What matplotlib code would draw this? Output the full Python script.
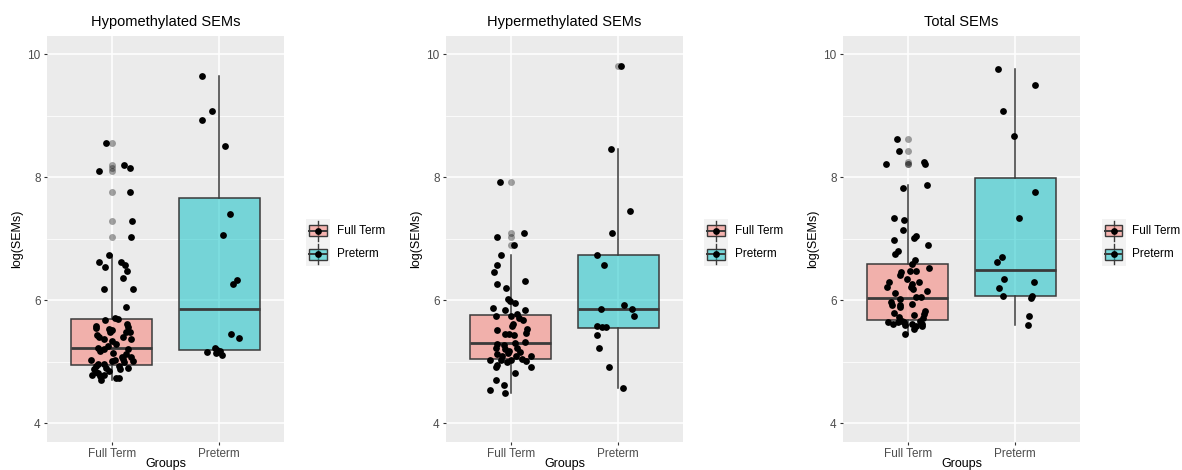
import numpy as np
import matplotlib.pyplot as plt
from matplotlib.colors import to_rgba
from matplotlib.patches import Rectangle

plt.rcParams['font.family'] = ['Liberation Sans', 'DejaVu Sans']

groups = ['Full Term', 'Preterm']
titles = ['Hypomethylated SEMs', 'Hypermethylated SEMs', 'Total SEMs']
fill_colors = ['#F8766D', '#00BFC4']
y_ticks = [4, 6, 8, 10]

# Hypomethylated: log(SEMs) values and horizontal jitter of each point
hypo_ft_y = [8.56, 8.10, 8.20, 8.15, 7.76, 7.29, 7.03, 6.74, 6.62, 6.54, 6.62, 6.58, 6.47, 6.36,
             6.19, 6.19, 5.89, 5.68, 5.71, 5.70, 5.59, 5.55, 5.53, 5.52, 5.49, 5.61, 5.56, 5.49,
             5.43, 5.41, 5.37, 5.34, 5.48, 5.37, 5.41, 5.23, 5.25, 5.20, 5.14, 5.13, 5.04, 5.08,
             5.02, 5.03, 4.97, 4.96, 5.01, 5.03, 4.99, 4.90, 4.88, 4.88, 4.79, 4.84, 4.77, 4.71,
             4.90, 4.73, 4.74, 4.81, 4.79, 4.85, 4.93, 4.93, 5.07, 5.21, 5.29, 5.18]
hypo_ft_dx = [-0.056, -0.118, 0.115, 0.171, 0.168, 0.193, 0.177, -0.028, -0.115, -0.059, 0.090,
              0.124, 0.143, 0.109, -0.071, 0.196, 0.137, -0.059, 0.031, 0.056, -0.143, -0.149,
              -0.022, 0.006, -0.019, 0.140, 0.149, 0.134, -0.137, -0.121, -0.075, 0.000, 0.174,
              0.177, 0.106, -0.130, -0.031, 0.149, 0.012, 0.137, 0.102, 0.180, 0.199, -0.196,
              -0.124, -0.071, 0.000, 0.031, 0.115, 0.149, 0.081, -0.165, -0.180, -0.143, -0.112,
              -0.096, -0.053, 0.037, 0.065, -0.124, -0.075, -0.028, -0.143, 0.068, 0.099, -0.068,
              0.043, -0.112]
hypo_pt_y = [9.65, 9.08, 8.93, 8.51, 7.40, 7.06, 6.33, 6.27, 5.45, 5.39, 5.16, 5.22, 5.19, 5.18,
             5.11, 5.15]
hypo_pt_dx = [-0.161, -0.068, -0.161, 0.056, 0.102, 0.037, 0.165, 0.124, 0.112, 0.186, -0.112,
              -0.040, -0.019, 0.006, 0.025, -0.031]
# q1, median, q3, lower whisker, upper whisker
hypo_box = [(4.95, 5.22, 5.70, 4.71, 6.74), (5.19, 5.86, 7.67, 5.11, 9.65)]

# Hypermethylated
hyper_ft_y = [7.93, 7.10, 7.03, 6.90, 6.74, 6.58, 6.46, 6.32, 6.26, 6.20, 6.02, 5.99, 5.95, 5.88,
              5.85, 5.84, 5.75, 5.75, 5.78, 5.72, 5.68, 5.61, 5.59, 5.53, 5.51, 5.47, 5.46, 5.45,
              5.43, 5.33, 5.30, 5.29, 5.27, 5.23, 5.21, 5.18, 5.23, 5.16, 5.13, 5.10, 5.15, 5.10,
              5.10, 5.03, 5.03, 5.03, 5.04, 5.02, 4.99, 4.95, 4.92, 4.91, 4.81, 4.71, 4.63, 4.54,
              4.49]
hyper_ft_dx = [-0.096, 0.121, -0.127, 0.034, -0.093, -0.127, -0.155, 0.133, -0.124, -0.040, -0.022,
               -0.006, 0.037, -0.161, -0.053, 0.130, -0.133, 0.000, 0.062, 0.080, 0.115, 0.025,
               0.009, 0.149, -0.130, 0.142, -0.053, -0.015, 0.031, 0.136, 0.040, -0.130, -0.062,
               -0.139, -0.053, -0.015, 0.062, 0.084, -0.124, -0.077, -0.025, 0.050, 0.192, -0.192,
               -0.093, 0.000, 0.108, 0.139, -0.037, -0.124, -0.133, 0.186, 0.040, -0.136, -0.062,
               -0.192, -0.053]
hyper_pt_y = [9.82, 8.46, 7.45, 7.09, 6.74, 6.58, 5.86, 5.92, 5.86, 5.75, 5.59, 5.56, 5.56, 5.43,
              5.23, 4.91, 4.57]
hyper_pt_dx = [0.028, -0.068, 0.105, -0.056, -0.198, -0.133, -0.164, 0.053, 0.127, 0.146, -0.198,
               -0.149, -0.111, -0.198, -0.176, -0.087, 0.040]
hyper_box = [(5.05, 5.30, 5.76, 4.49, 6.74), (5.55, 5.86, 6.74, 4.57, 8.46)]

# Total
total_ft_y = [8.63, 8.43, 8.21, 8.25, 8.21, 7.88, 7.83, 7.34, 7.30, 7.15, 7.01, 7.05, 6.98, 6.90,
              6.81, 6.76, 6.66, 6.59, 6.53, 6.46, 6.47, 6.47, 6.42, 6.35, 6.29, 6.29, 6.26, 6.21,
              6.21, 6.18, 6.12, 6.15, 6.06, 6.05, 6.02, 5.97, 5.93, 5.93, 5.94, 5.89, 5.79, 5.82,
              5.78, 5.76, 5.73, 5.72, 5.64, 5.62, 5.65, 5.64, 5.60, 5.61, 5.59, 5.62, 5.66, 5.53,
              5.59, 5.45, 5.67]
total_ft_dx = [-0.102, -0.077, -0.198, 0.152, 0.164, 0.180, -0.040, -0.127, -0.034, -0.040, 0.059,
               0.074, -0.124, 0.192, -0.093, -0.115, 0.065, 0.043, 0.195, -0.059, 0.019, 0.080,
               -0.068, -0.006, -0.173, 0.105, 0.043, -0.192, 0.034, 0.050, -0.115, 0.180, 0.074,
               0.121, -0.074, -0.158, -0.146, -0.071, 0.043, -0.074, -0.130, 0.164, 0.155, 0.056,
               -0.084, 0.139, -0.180, -0.136, -0.093, -0.034, -0.028, 0.037, 0.074, 0.130, 0.118,
               0.056, 0.133, -0.022, -0.050]
total_pt_y = [9.76, 9.51, 9.08, 8.67, 7.77, 7.34, 6.71, 6.63, 6.35, 6.29, 6.20, 6.07, 6.07, 6.04,
              5.75, 5.60]
total_pt_dx = [-0.161, 0.183, -0.115, -0.012, 0.180, 0.037, -0.127, -0.167, -0.105, 0.173, -0.149,
               -0.112, 0.155, 0.149, 0.127, 0.115]
total_box = [(5.68, 6.03, 6.59, 5.45, 7.88), (6.07, 6.49, 7.99, 5.60, 9.76)]

panels = [
    (hypo_ft_y, hypo_ft_dx, hypo_pt_y, hypo_pt_dx, hypo_box),
    (hyper_ft_y, hyper_ft_dx, hyper_pt_y, hyper_pt_dx, hyper_box),
    (total_ft_y, total_ft_dx, total_pt_y, total_pt_dx, total_box),
]

W, H = 1182, 470
fig = plt.figure(figsize=(W / 100, H / 100), dpi=100)

# panel rectangles and legend origins in pixels
panel_px = [(47, 36, 237, 405.7), (446, 36, 237, 405.7), (843, 36, 237, 405.7)]
legend_px = [306, 704, 1101.7]


def px_rect(x, y, w, h):
    return [x / W, 1 - (y + h) / H, w / W, h / H]


edge = '#3a3a3a'

for k, (ft_y, ft_dx, pt_y, pt_dx, boxes) in enumerate(panels):
    ax = fig.add_axes(px_rect(*panel_px[k]))
    ax.set_facecolor('#EBEBEB')
    for s in ax.spines.values():
        s.set_visible(False)

    ys = [np.array(ft_y), np.array(pt_y)]
    dxs = [np.array(ft_dx), np.array(pt_dx)]

    stats = []
    for i in range(2):
        q1, med, q3, lo, hi = boxes[i]
        fl = ys[i][(ys[i] > hi + 0.005) | (ys[i] < lo - 0.005)]
        stats.append(dict(q1=q1, med=med, q3=q3, whislo=lo, whishi=hi, fliers=fl))

    bp = ax.bxp(stats, positions=[1, 2], widths=0.75, patch_artist=True, showcaps=False,
                boxprops=dict(edgecolor=edge, linewidth=1.1),
                whiskerprops=dict(color=edge, linewidth=1.1),
                medianprops=dict(color=edge, linewidth=2.0),
                flierprops=dict(marker='o', markersize=5, markerfacecolor=(0, 0, 0, 0.35),
                                markeredgewidth=0))
    for i, patch in enumerate(bp['boxes']):
        patch.set_facecolor(to_rgba(fill_colors[i], 0.5))
        patch.set_zorder(2)
    for i in range(2):
        ax.scatter(i + 1 + dxs[i], ys[i], s=24, color='black', linewidths=0, zorder=4)

    ax.set_xlim(0.4, 2.6)
    ax.set_ylim(3.7, 10.3)
    ax.set_yticks(y_ticks)
    ax.set_yticks([5, 7, 9], minor=True)
    ax.set_xticks([1, 2])
    ax.set_xticklabels(groups)
    ax.grid(True, which='major', color='white', linewidth=1.1, zorder=0)
    ax.grid(True, which='minor', axis='y', color='white', linewidth=0.55, zorder=0)
    ax.set_axisbelow(True)
    ax.tick_params(which='major', length=2.5, width=0.8, color='#333333', labelcolor='#4D4D4D',
                   labelsize=8.5, pad=2)
    ax.tick_params(which='minor', length=0)
    ax.set_title(titles[k], fontsize=10.5, pad=7)
    ax.set_ylabel('log(SEMs)', fontsize=9, labelpad=3)
    ax.set_xlabel('Groups', fontsize=9, labelpad=-1.5)

    # legend drawn in its own small axes, pixel units
    lx = legend_px[k]
    lax = fig.add_axes(px_rect(lx, 219, 90, 47))
    lax.set_xlim(0, 90)
    lax.set_ylim(47, 0)
    lax.axis('off')
    lax.add_patch(Rectangle((0, 0), 24, 47, facecolor='#F2F2F2', edgecolor='none'))
    for i in range(2):
        cy = 11.75 + i * 23.5
        lax.plot([12, 12], [cy - 10, cy + 10], color=edge, linewidth=1.0)
        lax.add_patch(Rectangle((3.3, cy - 5.4), 17.4, 10.8,
                                facecolor=to_rgba(fill_colors[i], 0.5), edgecolor=edge,
                                linewidth=1.0, zorder=3))
        lax.plot([3.3, 20.7], [cy, cy], color=edge, linewidth=1.4, zorder=4)
        lax.scatter([12], [cy], s=24, color='black', linewidths=0, zorder=5)
        lax.text(30.7, cy, groups[i], fontsize=8.5, va='center', ha='left')

fig.savefig('out.png', dpi=100)
